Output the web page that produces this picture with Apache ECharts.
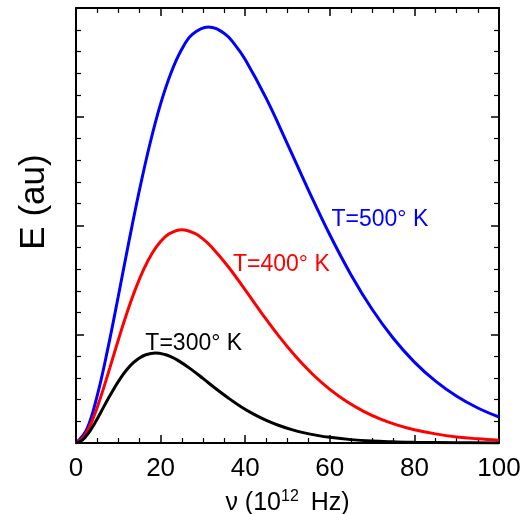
<!DOCTYPE html>
<html>
<head>
<meta charset="utf-8">
<script src="https://cdn.jsdelivr.net/npm/echarts@6/dist/echarts.min.js"></script>
<style>
html,body{margin:0;padding:0;background:#fff;}
#c{width:525px;height:514px;}
</style>
</head>
<body>
<div id="c"></div>
<script>
// frequency (10^12 Hz) and energy (au) for each temperature
var nu500 = [0,2.5,5,7.5,10,12.5,15,17.5,20,22.5,25,27.5,31.25,35,37.5,40,45,50,55,60,65,70,75,80,85,90,95,100];
var e500  = [0,0.122,0.434,0.863,1.350,1.850,2.326,2.754,3.118,3.407,3.620,3.757,3.826,3.768,3.666,3.526,3.166,2.749,2.321,1.915,1.548,1.230,0.963,0.744,0.569,0.430,0.322,0.239];

var nu400 = [0,2,4,6,8,10,12,14,16,18,20,22,25,28,30,32,36,40,44,48,52,56,60,64,68,72,76,80,85,90,95,100];
var e400  = [0,0.063,0.222,0.442,0.691,0.947,1.191,1.410,1.596,1.745,1.853,1.923,1.961,1.929,1.877,1.805,1.621,1.407,1.188,0.980,0.793,0.630,0.493,0.381,0.291,0.220,0.165,0.122,0.084,0.056,0.038,0.025];

var nu300 = [0,1.5,3,4.5,6,7.5,9,10.5,12,13.5,15,16.5,18.75,21,22.5,24,27,30,33,36,39,42,45,48,51,54,57,60,65,70,75,80,90,100];
var e300  = [0,0.026,0.094,0.186,0.292,0.400,0.502,0.595,0.673,0.736,0.782,0.811,0.827,0.814,0.792,0.762,0.684,0.594,0.501,0.414,0.334,0.266,0.208,0.161,0.123,0.093,0.070,0.052,0.031,0.018,0.011,0.006,0.002,0.001];

var xTicks = [0,20,40,60,80,100];
var labelText = ['T=500° K','T=400° K','T=300° K'];
var labelNu = [60.4, 37.1, 16.4];
var labelE  = [2.05, 1.642, 0.914];
var colors = ['#0000ff','#ff0000','#000000'];

function pairs(xs, ys){ return xs.map(function(x,i){ return [x, ys[i]]; }); }

var FONT = '"Liberation Sans", Arial, Helvetica, sans-serif';
var chart = echarts.init(document.getElementById('c'));

function xAx(pos, labels){
  return {
    type:'value', position:pos, min:0, max:100, interval:20,
    axisLine:{show:true, onZero:false, lineStyle:{color:'#000', width:2}},
    axisTick:{show:true, inside:true, length:8, lineStyle:{color:'#000', width:1.5}},
    minorTick:{show:true, splitNumber:4, length:5, lineStyle:{color:'#000', width:1.2}},
    splitLine:{show:false},
    axisLabel:{show:labels, fontSize:26, color:'#000', fontFamily:FONT, margin:13,
      formatter:function(v){ return xTicks.indexOf(v) >= 0 ? String(v) : ''; }},
    name: labels ? '{a|ν (10}{s|12}{a| Hz)}' : '',
    nameLocation:'middle', nameGap:46,
    nameTextStyle:{rich:{
      a:{fontSize:25, color:'#000', fontFamily:FONT},
      s:{fontSize:16, color:'#000', fontFamily:FONT, verticalAlign:'top', padding:[0,5,12,0]}
    }}
  };
}
function yAx(pos){
  return {
    type:'value', position:pos, min:0, max:4, interval:1,
    axisLine:{show:true, onZero:false, lineStyle:{color:'#000', width:2}},
    axisTick:{show:true, inside:true, length:8, lineStyle:{color:'#000', width:1.5}},
    minorTick:{show:true, splitNumber:5, length:5, lineStyle:{color:'#000', width:1.2}},
    splitLine:{show:false},
    axisLabel:{show:false}
  };
}

function line(xs, ys, c){
  return {type:'line', xAxisIndex:0, yAxisIndex:0, data:pairs(xs,ys), smooth:0.4, showSymbol:false,
    lineStyle:{color:c, width:3}, itemStyle:{color:c}, animation:false, z:3};
}

chart.setOption({
  backgroundColor:'#fff',
  animation:false,
  grid:{left:76, right:26, top:8, bottom:71, containLabel:false, outerBoundsMode:'none'},
  xAxis:[xAx('bottom', true), xAx('top', false)],
  yAxis:[yAx('left'), yAx('right')],
  series:[line(nu500,e500,colors[0]), line(nu400,e400,colors[1]), line(nu300,e300,colors[2])]
});

var g = [];
for (var i=0;i<labelText.length;i++){
  var p = chart.convertToPixel({xAxisIndex:0, yAxisIndex:0}, [labelNu[i], labelE[i]]);
  g.push({type:'text', x:p[0], y:p[1], z:10,
    style:{text:labelText[i], fill:colors[i], font:'23px '+FONT, textAlign:'left', textVerticalAlign:'middle'}});
}
g.push({type:'text', x:34.5, y:202, rotation:Math.PI/2, z:10,
  style:{text:'E (au)', fill:'#000', font:'35px '+FONT, textAlign:'center', textVerticalAlign:'middle'}});
chart.setOption({graphic:g});
</script>
</body>
</html>
